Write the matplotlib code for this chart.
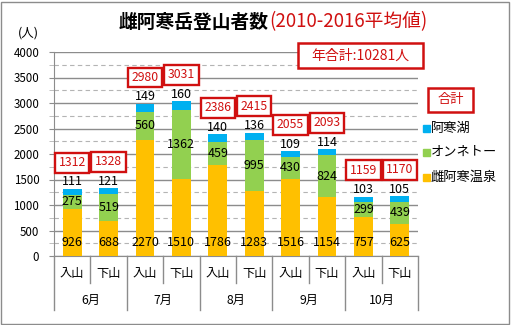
import numpy as np
import matplotlib
matplotlib.use('Agg')
import matplotlib.pyplot as plt
from matplotlib.patches import Rectangle
from matplotlib.transforms import blended_transform_factory

plt.rcParams['font.family'] = ['Noto Sans CJK JP', 'DejaVu Sans']

# データ
months = ['6月', '7月', '8月', '9月', '10月']
dirs = ['入山', '下山']
onsen = [926, 688, 2270, 1510, 1786, 1283, 1516, 1154, 757, 625]    # 雌阿寒温泉
onneto = [275, 519, 560, 1362, 459, 995, 430, 824, 299, 439]        # オンネトー
akanko = [111, 121, 149, 160, 140, 136, 109, 114, 103, 105]         # 阿寒湖
totals = [1312, 1328, 2980, 3031, 2386, 2415, 2055, 2093, 1159, 1170]
year_total = 10281

c_onsen = '#FFC000'
c_onneto = '#92D050'
c_akanko = '#00B0F0'
red = '#D01010'
grid_c = '#8C8C8C'

W, H = 511, 325
fig = plt.figure(figsize=(W / 100, H / 100), dpi=100)
ax = fig.add_axes([54 / W, 1 - 256 / H, 364 / W, 204 / H])

x = np.arange(len(onsen))
bw = 0.52
b1 = np.array(onsen)
b2 = b1 + np.array(onneto)
ax.bar(x, onsen, bw, color=c_onsen, zorder=3)
ax.bar(x, onneto, bw, bottom=b1, color=c_onneto, zorder=3)
ax.bar(x, akanko, bw, bottom=b2, color=c_akanko, zorder=3)

ax.set_xlim(-0.5, len(x) - 0.5)
ax.set_ylim(0, 4000)
ax.set_yticks(np.arange(0, 4001, 500))
ax.set_yticks(np.arange(250, 4000, 500), minor=True)
ax.grid(axis='y', which='major', color=grid_c, lw=1, zorder=0)
ax.grid(axis='y', which='minor', color='#B4B4B4', lw=0.8, ls=(0, (4, 3)), zorder=0)
ax.tick_params(axis='y', which='both', length=3.6, color=grid_c, pad=7, labelsize=8.3)
ax.tick_params(axis='y', which='minor', color='#B4B4B4')
ax.set_xticks([])
for s in ['top', 'right']:
    ax.spines[s].set_visible(False)
for s in ['left', 'bottom']:
    ax.spines[s].set_color(grid_c)

# データラベル
for i in x:
    ax.text(i, 255, str(onsen[i]), ha='center', va='center', fontsize=9, zorder=4)
    ax.text(i, b1[i] + onneto[i] / 2, str(onneto[i]), ha='center', va='center', fontsize=9, zorder=4)
    ax.annotate(str(akanko[i]), (i, b2[i] + akanko[i]), xytext=(0, 0.5), textcoords='offset points',
                ha='center', va='bottom', fontsize=9, zorder=4)
    # 合計ラベル(赤枠)
    yc = totals[i] + 520
    ax.add_patch(Rectangle((i - 0.47, yc - 195), 0.94, 390, fc='white', ec=red, lw=1.7,
                           zorder=5, clip_on=False))
    ax.text(i, yc, str(totals[i]), ha='center', va='center', fontsize=8.8, color=red, zorder=6)

# カテゴリ軸
tr = blended_transform_factory(ax.transData, ax.transAxes)
px = 1 / 204
for i in x:
    ax.text(i, -17 * px, dirs[i % 2], transform=tr, ha='center', va='center', fontsize=8.8)
    if i % 2 == 1:
        ax.plot([i - 0.5, i - 0.5], [0, -27 * px], transform=tr, color=grid_c, lw=1, clip_on=False)
for m in range(len(months)):
    ax.text(2 * m + 0.5, -44 * px, months[m], transform=tr, ha='center', va='center', fontsize=8.8)
for b in range(len(months) + 1):
    xb = 2 * b - 0.5
    ax.plot([xb, xb], [0, -54 * px], transform=tr, color=grid_c, lw=1, clip_on=False)

# タイトル
fig.text(269 / W, 1 - 22 / H, '雌阿寒岳登山者数', ha='right', va='center', fontsize=13.5, fontweight='bold')
fig.text(269 / W, 1 - 22 / H, '(2010-2016平均値)', ha='left', va='center', fontsize=13.5, color=red)
fig.text(28 / W, 1 - 33 / H, '(人)', ha='center', va='center', fontsize=9)

fig.patches.append(Rectangle((298 / W, 1 - 68 / H), 125 / W, 25 / H, transform=fig.transFigure,
                             fc='white', ec=red, lw=1.8, zorder=5))
fig.text(360 / W, 1 - 55.5 / H, f'年合計:{year_total}人', ha='center', va='center', fontsize=10,
         color=red, zorder=6)

# 凡例
fig.patches.append(Rectangle((428 / W, 1 - 112 / H), 45 / W, 24 / H, transform=fig.transFigure,
                             fc='white', ec=red, lw=1.8, zorder=5))
fig.text(450.5 / W, 1 - 100 / H, '合計', ha='center', va='center', fontsize=9.5, color=red, zorder=6)
leg = [('阿寒湖', c_akanko, 128), ('オンネトー', c_onneto, 152), ('雌阿寒温泉', c_onsen, 177)]
for name, col, yy in leg:
    fig.patches.append(Rectangle((423 / W, 1 - (yy + 3.5) / H), 7 / W, 7 / H,
                                 transform=fig.transFigure, color=col))
    fig.text(431 / W, 1 - yy / H, name, ha='left', va='center', fontsize=9.5)

# 外枠
fig.patches.append(Rectangle((1 / W, 1 / H), (W - 3) / W, (H - 3) / H, transform=fig.transFigure,
                             fill=False, ec='#8C8C8C', lw=1))

fig.savefig('out.png', dpi=100)
